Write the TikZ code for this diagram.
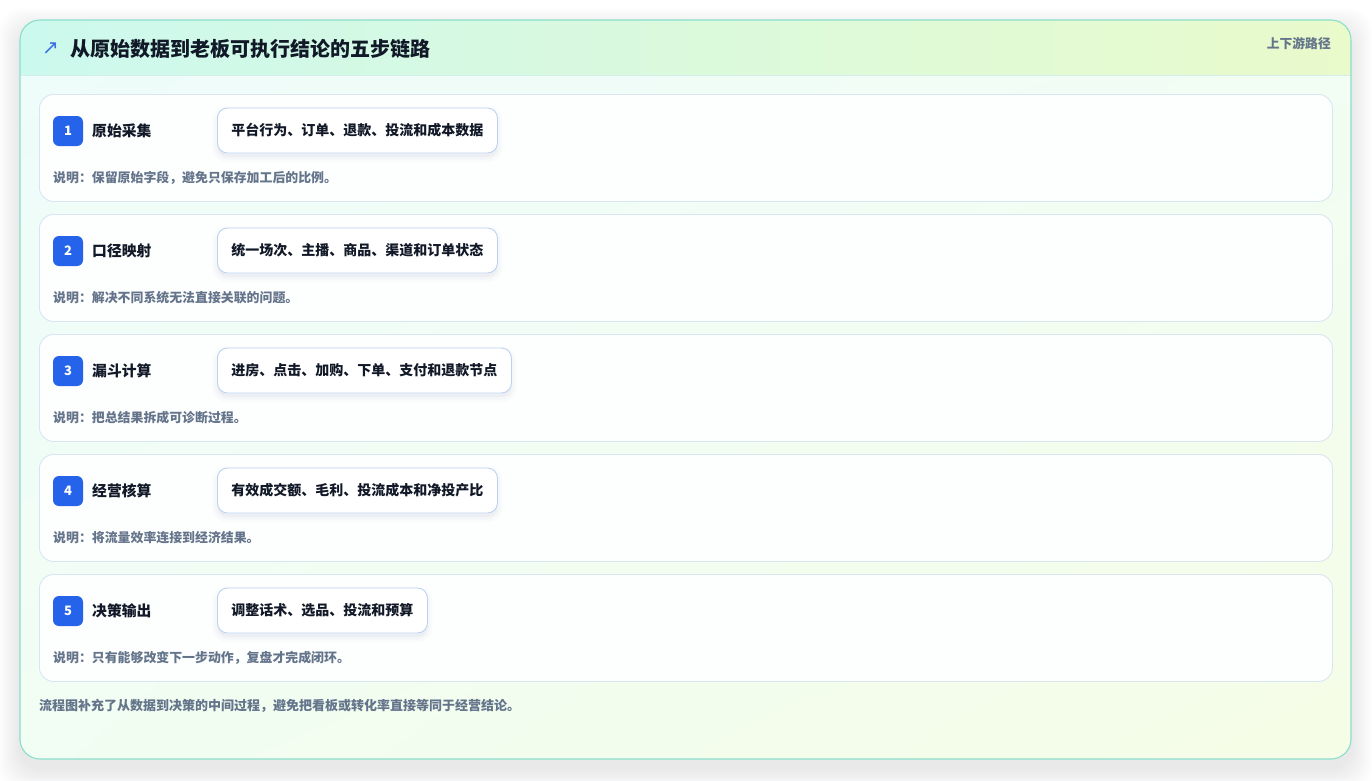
\documentclass[tikz,border=0pt]{standalone}
\usepackage{fontspec}
\setmainfont{Noto Sans CJK SC}
\newfontfamily\symfont{DejaVu Sans}
\usetikzlibrary{shadings}
\definecolor{headA}{HTML}{CCF9EE}
\definecolor{headB}{HTML}{E9FACB}
\definecolor{bodyA}{HTML}{EEFCFA}
\definecolor{bodyB}{HTML}{F5FDE6}
\definecolor{bodyC}{HTML}{F2FDF3}
\definecolor{outerborder}{HTML}{8ADFCB}
\definecolor{sepline}{HTML}{D4EEEA}
\definecolor{cardborder}{HTML}{D8E6F3}
\definecolor{cardfill}{HTML}{FDFEFE}
\definecolor{pillborder}{HTML}{BCD2F0}
\definecolor{badgeblue}{HTML}{2563EB}
\definecolor{arrowblue}{HTML}{3A6FE6}
\definecolor{inktext}{HTML}{111827}
\definecolor{graytext}{HTML}{64748B}
\definecolor{shadowc}{HTML}{1E293B}
\definecolor{pillshadow}{HTML}{3B5B8A}
\begin{document}
\begin{tikzpicture}[x=1pt,y=-1pt,
  card/.style={draw=cardborder, line width=0.9pt, fill=cardfill, rounded corners=14pt,
    minimum width=1293pt, minimum height=107pt, inner sep=0pt, anchor=north west},
  badge/.style={fill=badgeblue, rounded corners=6pt, minimum size=30pt, inner sep=0pt,
    text=white, font=\bfseries\fontsize{13}{14}\selectfont},
  steptitle/.style={anchor=west, inner sep=0pt, text=inktext, font=\bfseries\fontsize{14.8}{16}\selectfont},
  pill/.style={anchor=west, draw=pillborder, line width=0.9pt, fill=white, rounded corners=10pt,
    minimum height=45pt, inner xsep=14pt, inner ysep=0pt, text=inktext,
    font=\bfseries\fontsize{14}{16}\selectfont,
    preaction={fill=pillshadow, draw=pillshadow, line width=10pt, fill opacity=0.018, draw opacity=0.018, transform canvas={yshift=-4pt}},
    preaction={fill=pillshadow, draw=pillshadow, line width=5pt, fill opacity=0.025, draw opacity=0.025, transform canvas={yshift=-4pt}}},
  notetext/.style={anchor=west, inner sep=0pt, text=graytext, font=\bfseries\fontsize{12.9}{14}\selectfont},
]
\useasboundingbox[fill=white] (0,0) rectangle (1372,780);
% outer soft shadow
\foreach \k in {1,2,...,22} {
  \fill[shadowc, fill opacity=0.0045, rounded corners=24pt] (20-\k, 30-\k) rectangle (1351+\k, 769+\k);
}
% card background
\begin{scope}
  \clip[rounded corners=20pt] (20,20) rectangle (1351,759);
  \shade[upper left=bodyA, upper right=bodyC, lower left=bodyC, lower right=bodyB] (20,75) rectangle (1351,759);
  \shade[left color=headA, right color=headB] (20,20) rectangle (1351,75);
  \draw[sepline, line width=0.9pt] (20,75) -- (1351,75);
\end{scope}
\draw[outerborder, line width=1.1pt, rounded corners=20pt] (20,20) rectangle (1351,759);
% header
\node[inner sep=0pt, text=arrowblue, font=\symfont\fontsize{20}{22}\selectfont] (icon) at (50.5,49) {↗};
\node[anchor=west, inner sep=0pt, text=inktext, font=\bfseries\fontsize{20}{22}\selectfont] (title) at (70,49) {从原始数据到老板可执行结论的五步链路};
\node[anchor=east, inner sep=0pt, text=graytext, font=\bfseries\fontsize{12.8}{14}\selectfont] (tag) at (1331,44) {上下游路径};
% steps
\foreach \i/\ttl/\pilltxt/\notetxt in {
  1/原始采集/平台行为、订单、退款、投流和成本数据/说明：保留原始字段，避免只保存加工后的比例。,
  2/口径映射/统一场次、主播、商品、渠道和订单状态/说明：解决不同系统无法直接关联的问题。,
  3/漏斗计算/进房、点击、加购、下单、支付和退款节点/说明：把总结果拆成可诊断过程。,
  4/经营核算/有效成交额、毛利、投流成本和净投产比/说明：将流量效率连接到经济结果。,
  5/决策输出/调整话术、选品、投流和预算/说明：只有能够改变下一步动作，复盘才完成闭环。} {
  \pgfmathsetmacro\cy{94+120*(\i-1)}
  \node[card] (card\i) at (39,\cy) {};
  \node[badge] (badge\i) at (68,\cy+37) {\i};
  \node[steptitle] (stitle\i) at (92,\cy+37) {\ttl};
  \node[pill] (pill\i) at (217,\cy+36.5) {\pilltxt};
  \node[notetext] (note\i) at (53,\cy+84) {\notetxt};
}
% footer
\node[anchor=west, inner sep=0pt, text=graytext, font=\bfseries\fontsize{13}{14}\selectfont] (foot) at (39,706) {流程图补充了从数据到决策的中间过程，避免把看板或转化率直接等同于经营结论。};
\end{tikzpicture}
\end{document}
